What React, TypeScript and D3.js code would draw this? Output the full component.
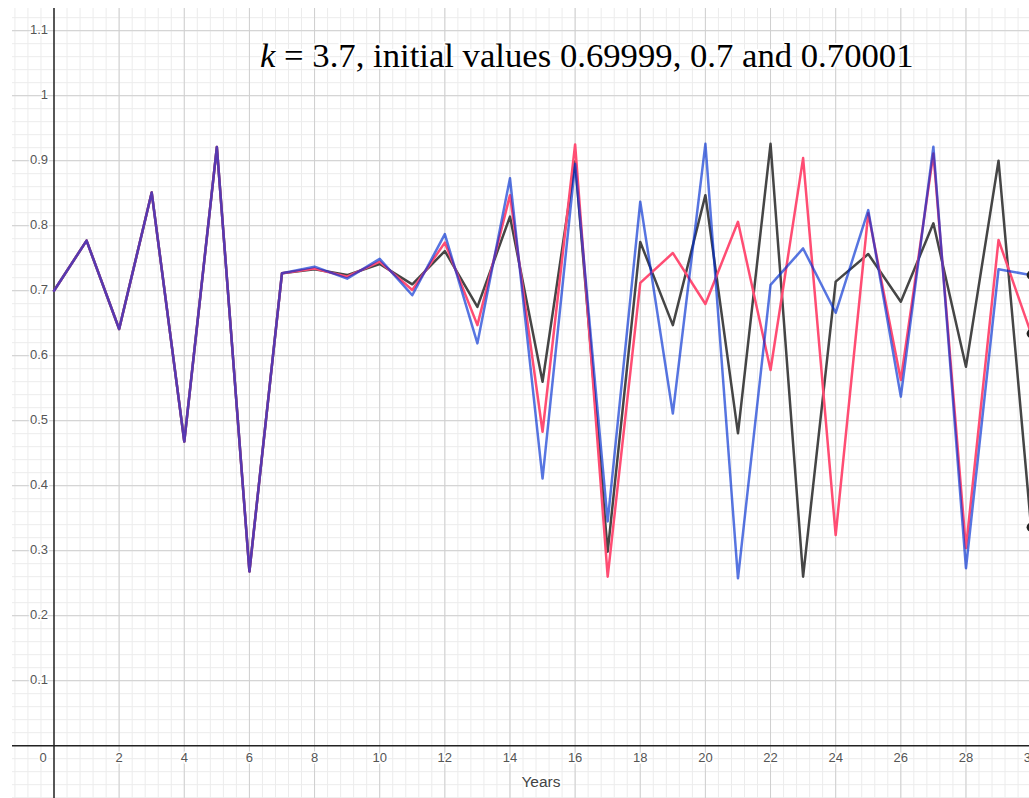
import React from 'react';
import * as d3 from 'd3';

// years on the horizontal axis
const years = [0, 1, 2, 3, 4, 5, 6, 7, 8, 9, 10, 11, 12, 13, 14, 15, 16, 17, 18, 19, 20, 21, 22, 23, 24, 25, 26, 27, 28, 29, 30];

// values
const blueValues = [0.7, 0.777, 0.641, 0.851, 0.468, 0.921, 0.268, 0.727, 0.737, 0.7185, 0.749, 0.693, 0.787, 0.619, 0.873, 0.411, 0.895, 0.345, 0.837, 0.511, 0.926, 0.2575, 0.709, 0.765, 0.666, 0.824, 0.537, 0.9215, 0.273, 0.733, 0.724];
const pinkValues = [0.7, 0.777, 0.641, 0.851, 0.468, 0.921, 0.268, 0.727, 0.734, 0.7215, 0.7447, 0.701, 0.774, 0.647, 0.847, 0.483, 0.925, 0.26, 0.712, 0.758, 0.6795, 0.806, 0.578, 0.904, 0.324, 0.819, 0.5626, 0.911, 0.304, 0.778, 0.634];
const blackValues = [0.7, 0.777, 0.641, 0.851, 0.468, 0.921, 0.268, 0.727, 0.733, 0.724, 0.741, 0.7098, 0.761, 0.675, 0.814, 0.56, 0.899, 0.2985, 0.775, 0.647, 0.847, 0.4806, 0.926, 0.26, 0.714, 0.7565, 0.683, 0.8037, 0.583, 0.9, 0.336];

const xTickValues = [2, 4, 6, 8, 10, 12, 14, 16, 18, 20, 22, 24, 26, 28, 30];
const yTickValues = [0.1, 0.2, 0.3, 0.4, 0.5, 0.6, 0.7, 0.8, 0.9, 1, 1.1];

const title = ' = 3.7, initial values 0.69999, 0.7 and 0.70001';
const xLabel = 'Years';

const width = 1029;
const height = 798;
const plot = { left: 12, top: 8, right: 1029, bottom: 798 };

const App = () => {
  const x = d3.scaleLinear().domain([0, 30]).range([54, 1031.1]);
  const y = d3.scaleLinear().domain([0, 1]).range([745.7, 95.7]);

  const xMin = x.invert(plot.left);
  const xMax = x.invert(plot.right);
  const yMin = y.invert(plot.bottom);
  const yMax = y.invert(plot.top);

  const minorX = d3.range(Math.ceil(xMin / 0.4) * 0.4, xMax, 0.4);
  const minorY = d3.range(Math.ceil(yMin / 0.02) * 0.02, yMax, 0.02);
  const majorX = d3.range(Math.ceil(xMin / 2) * 2, xMax, 2).filter(d => Math.abs(d) > 1e-9);
  const majorY = d3.range(Math.ceil(yMin / 0.1) * 0.1, yMax, 0.1).filter(d => Math.abs(d) > 1e-9);

  const line = d3
    .line<number>()
    .x((d, i) => x(years[i]))
    .y(d => y(d));

  const series = [
    { key: 'black', values: blackValues, color: '#454545', opacity: 1 },
    { key: 'pink', values: pinkValues, color: '#ff4d73', opacity: 1 },
    { key: 'blue', values: blueValues, color: '#002ed1', opacity: 0.66 },
  ];

  const labelStyle = {
    fontFamily: '"Liberation Sans", Arial, sans-serif',
    fontSize: 13,
    fill: '#555',
    stroke: '#fff',
    strokeWidth: 3,
    paintOrder: 'stroke',
  } as React.CSSProperties;

  return (
    <svg
      width={width}
      height={height}
      style={{ position: 'absolute', left: 0, top: 0, background: '#fff' }}
    >
      <defs>
        <clipPath id="plot-clip">
          <rect x={plot.left} y={plot.top} width={plot.right - plot.left} height={plot.bottom - plot.top} />
        </clipPath>
      </defs>
      <g clipPath="url(#plot-clip)">
        {/* minor grid */}
        {minorX.map((d, i) => (
          <line key={'mx' + i} x1={x(d)} x2={x(d)} y1={plot.top} y2={plot.bottom} stroke="#ececec" strokeWidth={1} />
        ))}
        {minorY.map((d, i) => (
          <line key={'my' + i} x1={plot.left} x2={plot.right} y1={y(d)} y2={y(d)} stroke="#ececec" strokeWidth={1} />
        ))}
        {/* major grid */}
        {majorX.map((d, i) => (
          <line key={'Mx' + i} x1={x(d)} x2={x(d)} y1={plot.top} y2={plot.bottom} stroke="#cfcfcf" strokeWidth={1} />
        ))}
        {majorY.map((d, i) => (
          <line key={'My' + i} x1={plot.left} x2={plot.right} y1={y(d)} y2={y(d)} stroke="#cfcfcf" strokeWidth={1} />
        ))}
        {/* axes */}
        <line x1={x(0)} x2={x(0)} y1={plot.top} y2={plot.bottom} stroke="#222" strokeWidth={1.5} />
        <line x1={plot.left} x2={plot.right} y1={y(0)} y2={y(0)} stroke="#222" strokeWidth={1.5} />

        {/* tick labels */}
        {xTickValues.map(d => (
          <text key={'xt' + d} x={x(d)} y={y(0) + 13} textAnchor="middle" dominantBaseline="middle" style={labelStyle}>
            {d}
          </text>
        ))}
        <text x={x(0) - 11} y={y(0) + 13} textAnchor="middle" dominantBaseline="middle" style={labelStyle}>
          0
        </text>
        {yTickValues.map(d => (
          <text key={'yt' + d} x={x(0) - 6} y={y(d)} textAnchor="end" dominantBaseline="middle" style={labelStyle}>
            {d}
          </text>
        ))}

        {/* the three curves */}
        {series.map(s => (
          <path
            key={s.key}
            d={line(s.values) || ''}
            fill="none"
            stroke={s.color}
            strokeOpacity={s.opacity}
            strokeWidth={2.5}
            strokeLinejoin="round"
            strokeLinecap="round"
          />
        ))}
        {series.map(s => (
          <circle key={'dot' + s.key} cx={x(years[years.length - 1])} cy={y(s.values[s.values.length - 1])} r={4.5} fill="#222" />
        ))}

        <text
          x={541}
          y={783}
          textAnchor="middle"
          dominantBaseline="middle"
          style={{ ...labelStyle, fontSize: 15.5, fill: '#444' }}
        >
          {xLabel}
        </text>

        <text
          x={260}
          y={66.5}
          style={{ fontFamily: '"Liberation Serif", "Times New Roman", serif', fontSize: 34.7, fill: '#000', stroke: '#fff', strokeWidth: 4, paintOrder: 'stroke' } as React.CSSProperties}
        >
          <tspan fontStyle="italic">k</tspan>
          {title}
        </text>
      </g>
    </svg>
  );
};

export default App;
